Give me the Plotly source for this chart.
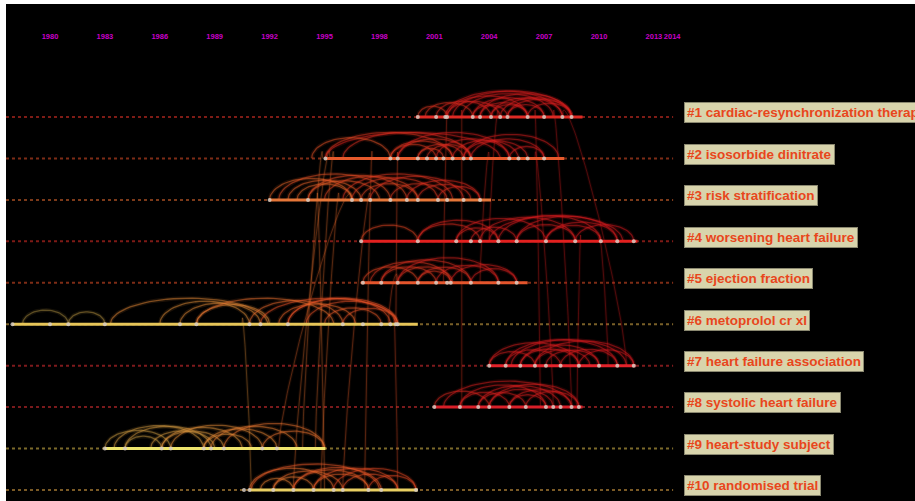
import numpy as np
import plotly.graph_objects as go

# ---- cluster timeline data -------------------------------------------------
labels = [
    "#1 cardiac-resynchronization therapy",
    "#2 isosorbide dinitrate",
    "#3 risk stratification",
    "#4 worsening heart failure",
    "#5 ejection fraction",
    "#6 metoprolol cr xl",
    "#7 heart failure association",
    "#8 systolic heart failure",
    "#9 heart-study subject",
    "#10 randomised trial",
]
span_start = [2000.0, 1995.05, 1992.0, 1997.0, 1997.0, 1977.95, 2004.0, 2001.0, 1983.0, 1990.9]
span_end = [2009.1, 2008.1, 2004.1, 2012.1, 2006.1, 2000.1, 2012.0, 2009.1, 1995.05, 2000.1]

line_colors = ["#de2a24", "#e65a2c", "#e57638", "#e3201f", "#e4552c",
               "#e6c558", "#e2222a", "#d91f28", "#eee46e", "#e9cf62"]
dot_colors = ["#7e1c16", "#7e2c16", "#7c3a1a", "#7e1a16", "#7e2c16",
              "#7a6028", "#7e1a1c", "#7a1a1c", "#7c6a2a", "#7a5a26"]

nodes = [
    [2000.1, 2001.1, 2001.6, 2001.7, 2003.1, 2003.5, 2004.1, 2004.6, 2005.0, 2006.1, 2007.0, 2008.0, 2008.5],
    [1995.05, 1998.6, 1999.0, 2000.1, 2000.6, 2001.1, 2001.5, 2002.0, 2002.6, 2003.0, 2005.1, 2005.6, 2006.1, 2007.0],
    [1992.0, 1994.1, 1996.5, 1997.0, 1997.5, 1998.6, 1999.5, 2000.1, 2001.2, 2001.7, 2002.6, 2003.5],
    [1997.0, 2000.1, 2002.2, 2003.0, 2003.5, 2004.5, 2005.5, 2007.1, 2008.7, 2010.1, 2011.0, 2011.9],
    [1997.1, 1998.1, 1999.0, 2000.1, 2001.1, 2001.7, 2001.9, 2003.0, 2004.5, 2005.5],
    [1977.95, 1980.0, 1981.0, 1983.0, 1987.1, 1988.0, 1990.9, 1991.5, 1993.0, 1996.0, 1997.1, 1998.1, 1998.6, 1998.9, 1999.0],
    [2004.0, 2004.9, 2005.7, 2006.5, 2007.1, 2007.9, 2008.9, 2010.0, 2011.0, 2011.9],
    [2001.0, 2002.4, 2003.4, 2004.0, 2005.1, 2006.0, 2007.1, 2007.5, 2007.9, 2008.5, 2008.9],
    [1983.0, 1984.1, 1986.1, 1986.6, 1988.4, 1988.8, 1989.5, 1991.6, 1992.4],
    [1990.6, 1990.9, 1992.2, 1993.3, 1994.4, 1995.5, 1996.0, 1997.4, 1998.1, 2000.0],
]

# co-citation links inside each cluster: (earlier year, later year)
links = [
    [(2000.1, 2001.7), (2001.1, 2004.1), (2001.6, 2008.0), (2001.7, 2006.1), (2002.0, 2008.5),
     (2003.1, 2007.0), (2003.1, 2005.0), (2003.5, 2006.1), (2004.1, 2008.0), (2004.6, 2008.5),
     (2005.0, 2007.0), (2005.0, 2008.5), (2004.1, 2006.1), (2003.5, 2008.5), (2006.1, 2008.5),
     (2001.7, 2004.6), (2002.5, 2007.5), (2000.5, 2003.1)],
    [(1995.05, 2004.6), (1995.05, 2002.0), (1996.0, 2003.0), (1998.6, 2002.0), (1999.0, 2003.0),
     (1998.6, 2001.1), (2000.1, 2002.6), (2000.6, 2003.0), (2001.1, 2005.1), (2002.0, 2005.6),
     (2002.6, 2006.1), (2003.0, 2007.0), (2005.1, 2007.0), (2000.1, 2001.5), (1999.0, 2005.1),
     (2002.6, 2007.8), (1994.3, 1998.6)],
    [(1992.0, 1996.5), (1992.5, 1998.6), (1993.0, 1997.0), (1994.1, 1999.5), (1994.1, 1998.0),
     (1995.0, 2000.1), (1996.5, 2001.2), (1997.0, 2000.1), (1997.5, 2002.6), (1998.6, 2001.7),
     (1999.5, 2003.5), (2000.1, 2003.0), (2001.2, 2003.5), (1996.0, 2002.0), (1993.5, 1996.5)],
    [(1997.0, 2000.1), (2000.1, 2004.5), (2002.2, 2007.1), (2003.0, 2005.5), (2003.5, 2008.7),
     (2004.5, 2010.1), (2005.5, 2011.0), (2007.1, 2011.0), (2007.1, 2010.1), (2008.7, 2011.9),
     (2002.2, 2004.5), (2000.1, 2003.5), (2005.5, 2008.7), (2004.0, 2011.3)],
    [(1997.1, 2000.1), (1997.5, 2001.9), (1998.1, 2001.1), (1998.1, 2003.0), (1999.0, 2002.0),
     (1999.0, 2004.5), (2000.1, 2003.0), (2001.1, 2004.5), (2001.9, 2005.5), (2003.0, 2005.5),
     (2000.1, 2001.9)],
    [(1978.5, 1981.0), (1981.0, 1983.0), (1983.3, 1991.9), (1987.1, 1991.5), (1988.0, 1992.0),
     (1986.0, 1990.9), (1990.9, 1996.0), (1991.5, 1999.0), (1993.0, 1998.6), (1993.0, 1999.0),
     (1994.0, 1998.9), (1996.0, 1999.0), (1995.0, 1998.1), (1988.0, 1995.5), (1992.5, 1996.7)],
    [(2004.0, 2008.9), (2004.9, 2011.0), (2005.7, 2010.0), (2006.5, 2011.9), (2007.1, 2010.0),
     (2007.9, 2011.0), (2004.9, 2007.9), (2005.7, 2008.9), (2006.5, 2009.5), (2008.9, 2011.9),
     (2004.0, 2006.5), (2005.2, 2011.5)],
    [(2001.0, 2004.0), (2001.5, 2008.5), (2002.4, 2007.1), (2002.4, 2005.1), (2003.4, 2007.9),
     (2003.4, 2006.0), (2004.0, 2008.9), (2005.1, 2008.5), (2006.0, 2008.9), (2004.0, 2007.5),
     (2005.1, 2007.1)],
    [(1983.0, 1986.6), (1983.5, 1988.4), (1984.1, 1988.8), (1984.1, 1986.1), (1986.1, 1989.5),
     (1986.6, 1991.6), (1986.1, 1990.5), (1988.4, 1992.4), (1988.8, 1993.5), (1989.5, 1995.0),
     (1991.6, 1995.0), (1985.5, 1989.0), (1988.4, 1991.0)],
    [(1990.9, 1995.5), (1991.5, 1993.3), (1992.2, 1996.0), (1993.3, 1997.4), (1993.3, 1998.1),
     (1994.4, 1999.0), (1995.5, 2000.0), (1996.0, 1999.0), (1992.2, 1994.4), (1997.4, 2000.0),
     (1994.4, 1997.4), (1991.0, 1998.0)],
]

# links between clusters: (cluster a, year a, cluster b, year b)
cross_links = [
    (1, 1995.3, 9, 1993.3), (1, 1994.9, 8, 1993.8), (0, 2008.0, 6, 2011.5), (0, 2007.5, 7, 2008.5),
    (1, 2006.5, 7, 2007.5), (0, 2004.5, 3, 2004.0), (3, 2010.0, 6, 2010.5), (2, 1996.5, 8, 1992.5),
    (2, 1997.5, 9, 1996.0), (5, 1998.8, 9, 1999.0), (4, 1999.0, 5, 1998.5), (1, 1999.0, 5, 1998.9),
    (5, 1990.5, 9, 1991.0), (4, 2001.5, 0, 2001.7), (8, 1994.5, 1, 1995.5), (0, 2002.5, 7, 2002.5),
    (2, 1994.6, 9, 1995.0), (3, 2009.0, 7, 2008.8), (1, 1997.6, 9, 1997.2), (0, 2006.5, 7, 2006.8),
    (2, 1995.8, 9, 1994.8), (1, 2004.0, 4, 2003.5),
]

year_ticks = [1980, 1983, 1986, 1989, 1992, 1995, 1998, 2001, 2004, 2007, 2010, 2013, 2014]

# ---- geometry of the canvas ------------------------------------------------
W, H = 915, 501
ML, MT = 6, 4
PX_PER_YEAR = 18.3
X0 = 1980 - (50 - ML) / PX_PER_YEAR
X1 = 1980 + (W - 50) / PX_PER_YEAR
ROW_PX = 41.44
Y_TOP = (MT - 117) / ROW_PX
Y_BOT = (H - 117) / ROW_PX
TIMELINE_END = 2014.05
LABEL_X = 2014.62

stops_year = [1978, 1988, 1993, 1997, 2001, 2005, 2013]
stops_rgb = np.array([[150, 130, 60], [205, 155, 65], [230, 128, 50], [232, 98, 42],
                      [222, 60, 32], [214, 32, 30], [214, 26, 30]], dtype=float)


def year_rgb(y):
    return [int(np.interp(y, stops_year, stops_rgb[:, k])) for k in range(3)]


def arc_points(a, b, row, n=40):
    span_px = abs(b - a) * PX_PER_YEAR
    h = min(5 + 0.2 * span_px, 26) / ROW_PX
    t = np.linspace(0, np.pi, n)
    mid, half = (a + b) / 2, (b - a) / 2
    return mid - half * np.cos(t), row - h * np.sin(t)


def add_soft_line(xs, ys, rgb, alpha, width):
    r, g, b = rgb
    # wide faint halo under a thin core line
    fig.add_trace(go.Scatter(x=xs, y=ys, mode="lines",
                             line=dict(color=f"rgba({r},{g},{b},{alpha * 0.25:.3f})", width=width * 3),
                             hoverinfo="skip", showlegend=False))
    fig.add_trace(go.Scatter(x=xs, y=ys, mode="lines",
                             line=dict(color=f"rgba({r},{g},{b},{alpha:.3f})", width=width),
                             hoverinfo="skip", showlegend=False))


fig = go.Figure()

# dotted guide for every cluster row
for i in range(len(labels)):
    fig.add_trace(go.Scatter(x=[X0, TIMELINE_END], y=[i, i], mode="lines",
                             line=dict(color=dot_colors[i], width=2, dash="dot"),
                             hoverinfo="skip", showlegend=False))

# cross-cluster links (faint)
for ca, ya, cb, yb in cross_links:
    t = np.linspace(0, np.pi, 60)
    s = (1 - np.cos(t)) / 2
    xs = ya + (yb - ya) * s
    lift = 0.4 + 0.1 * abs(ca - cb)
    ys = ca + (cb - ca) * s - lift * np.sin(t)
    add_soft_line(xs, ys, year_rgb(max(ya, yb)), 0.32, 1)

# arcs inside each cluster
for i, pairs in enumerate(links):
    for a, b in pairs:
        xs, ys = arc_points(a, b, i)
        add_soft_line(xs, ys, year_rgb(b), 0.5, 1.3)

# active span of each cluster
for i in range(len(labels)):
    fig.add_trace(go.Scatter(x=[span_start[i], span_end[i]], y=[i, i], mode="lines",
                             line=dict(color=line_colors[i], width=3),
                             hoverinfo="skip", showlegend=False))
    fig.add_trace(go.Scatter(x=nodes[i], y=[i] * len(nodes[i]), mode="markers",
                             marker=dict(size=4, color="rgba(215,205,195,0.85)",
                                         line=dict(width=0)),
                             hoverinfo="skip", showlegend=False))

# year labels along the top
fig.add_trace(go.Scatter(x=year_ticks, y=[-1.93] * len(year_ticks), mode="text",
                         text=[str(y) for y in year_ticks],
                         textfont=dict(family="Liberation Sans, Arial", size=7.5,
                                       color="#c800c8", weight="bold"),
                         hoverinfo="skip", showlegend=False))

# cluster labels
for i, lab in enumerate(labels):
    fig.add_annotation(x=LABEL_X, y=i - 0.1, text=lab, showarrow=False,
                       xanchor="left", yanchor="middle",
                       font=dict(family="Liberation Sans, Arial", size=13.5,
                                 color="#e8461c", weight="bold"),
                       bgcolor="#d8d4ac", bordercolor="#8a8870", borderwidth=1,
                       borderpad=2)

fig.update_layout(
    width=W, height=H,
    margin=dict(l=ML, r=0, t=MT, b=0),
    paper_bgcolor="white", plot_bgcolor="black",
    xaxis=dict(range=[X0, X1], visible=False, fixedrange=True),
    yaxis=dict(range=[Y_BOT, Y_TOP], visible=False, fixedrange=True),
)

fig.write_html("out.html")
